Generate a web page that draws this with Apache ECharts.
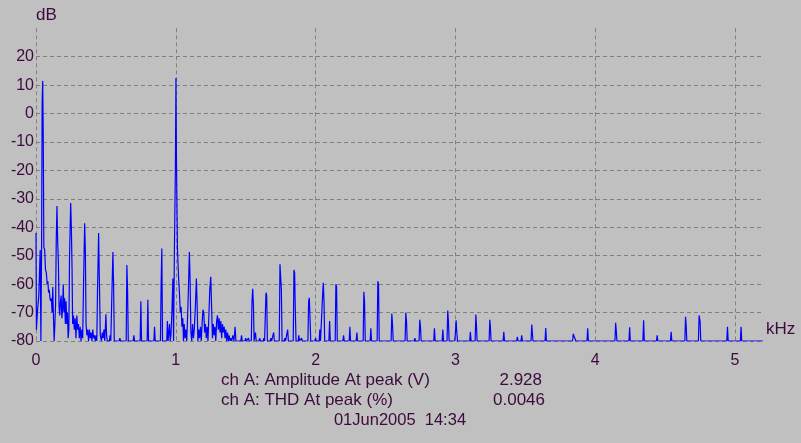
<!DOCTYPE html>
<html>
<head>
<meta charset="utf-8">
<script src="https://cdn.jsdelivr.net/npm/echarts@6/dist/echarts.min.js"></script>
<style>
html,body{margin:0;padding:0;background:#c0c0c0;}
#chart{width:801px;height:443px;}
</style>
</head>
<body>
<div id="chart"></div>
<script>
// ---- data (frequency in kHz, level in dB) ----
const xTicks = [0, 1, 2, 3, 4, 5];
const yTicks = [20, 10, 0, -10, -20, -30, -40, -50, -60, -70, -80];
const floorDb = -80;
const binKHz = 0.005;

// low-frequency region around the 50 Hz component and its harmonics
const lowBand = [
  [0.000,-42],[0.003,-76],[0.010,-70],[0.020,-64],[0.030,-48],[0.040,-47],[0.044,4],[0.048,11.5],[0.052,-8],
  [0.056,-47],[0.062,-48],[0.068,-55],[0.074,-56],[0.080,-60],[0.085,-59],[0.090,-63],[0.095,-62],[0.100,-65],
  [0.105,-66],[0.110,-65],[0.115,-70],[0.120,-61],[0.125,-72],[0.130,-80],[0.135,-74],[0.140,-67],[0.145,-44],
  [0.150,-32.5],[0.155,-45],[0.160,-52],[0.165,-68],[0.170,-71],[0.175,-66],[0.180,-64],[0.185,-72],[0.190,-69],
  [0.195,-60],[0.200,-70],[0.205,-65],[0.210,-74],[0.215,-66],[0.220,-74],[0.225,-70],[0.230,-79],[0.235,-76],
  [0.240,-50],[0.248,-31.5],[0.253,-40],[0.258,-55],[0.262,-74],[0.268,-71],[0.274,-76],[0.280,-72],[0.286,-79],
  [0.292,-71],[0.298,-76],[0.304,-74],[0.310,-79],[0.316,-75],[0.322,-80],[0.328,-76],[0.334,-79],[0.340,-60],
  [0.348,-38.6],[0.353,-48],[0.358,-74],[0.364,-78],[0.370,-76],[0.376,-80],[0.382,-76],[0.388,-79],[0.394,-77],
  [0.400,-80],[0.406,-76],[0.412,-79],[0.418,-78],[0.424,-80],[0.430,-78],[0.440,-62],[0.448,-42],[0.453,-58],
  [0.460,-78],[0.468,-80],[0.474,-77],[0.480,-79],[0.486,-76],[0.492,-80],[0.500,-70.6],[0.505,-78]
];

// isolated spikes between the low band and the 1 kHz tone
const midPeaks = [
  [0.530,-78],[0.550,-48.7],[0.555,-60],[0.600,-79],[0.650,-53.3],[0.655,-62],[0.700,-78],[0.750,-66],
  [0.800,-65.5],[0.848,-75],[0.895,-60],[0.900,-47.5],[0.940,-73]
];

// 1 kHz test tone and the noise around it
const toneBand = [
  [0.955,-74],[0.965,-78],[0.972,-70],[0.979,-58],[0.990,-48],[0.997,-20],[1.001,12.5],[1.005,-18],[1.012,-48],
  [1.020,-58],[1.026,-63],[1.032,-70],[1.038,-68],[1.044,-75],[1.050,-72],[1.055,-80],[1.060,-74],[1.066,-79],
  [1.072,-76],[1.078,-80],[1.084,-72],[1.090,-62],[1.097,-48.7],[1.102,-58],[1.108,-77],[1.114,-80],[1.120,-74],
  [1.126,-79],[1.132,-76],[1.140,-68],[1.147,-58],[1.152,-66],[1.158,-80],[1.164,-76],[1.170,-79],[1.176,-75],
  [1.182,-80],[1.188,-74],[1.194,-69],[1.200,-70],[1.206,-77],[1.212,-74],[1.218,-79],[1.224,-75],[1.230,-80],
  [1.236,-72],[1.243,-62],[1.250,-57.4],[1.256,-68],[1.262,-79],[1.268,-74],[1.274,-78],[1.280,-75],[1.286,-80],
  [1.292,-73],[1.298,-71],[1.304,-76],[1.310,-72],[1.316,-77],[1.322,-73],[1.328,-79],[1.334,-74],[1.340,-77],
  [1.346,-75],[1.352,-79],[1.358,-76],[1.364,-80],[1.370,-77],[1.376,-80],[1.382,-78],[1.388,-80],[1.394,-79],
  [1.400,-80],[1.408,-78],[1.416,-80],[1.424,-75],[1.430,-80]
];

// harmonics and spurs above 1.4 kHz
const highPeaks = [
  [1.470,-78],[1.500,-79],[1.520,-79],[1.545,-66],[1.550,-61.6],[1.555,-67],[1.570,-77],[1.600,-79],[1.630,-79],
  [1.645,-63],[1.650,-64],[1.680,-79],[1.700,-77],[1.745,-53],[1.750,-52.7],[1.755,-62],[1.780,-79],[1.800,-76],
  [1.845,-55],[1.850,-56],[1.855,-70],[1.880,-78],[1.900,-79],[1.950,-66],[1.955,-64.8],[1.960,-72],[2.000,-79],
  [2.030,-76],[2.050,-64],[2.055,-59.5],[2.060,-66],[2.100,-73],[2.145,-60],[2.150,-61],[2.200,-78],[2.245,-75],
  [2.295,-77],[2.345,-62.7],[2.350,-66],[2.395,-75.5],[2.445,-59],[2.450,-60],[2.545,-70.3],[2.550,-74],
  [2.645,-70],[2.650,-73],[2.710,-79],[2.745,-72.5],[2.750,-75],[2.850,-75.5],[2.910,-76],[2.945,-69.3],
  [2.950,-73],[3.000,-77],[3.005,-72.7],[3.010,-77],[3.107,-76.8],[3.146,-70.7],[3.150,-74],[3.246,-72.5],
  [3.250,-75],[3.346,-76.8],[3.443,-78.5],[3.474,-78],[3.546,-74.2],[3.550,-77],[3.646,-75.4],[3.843,-77.5],
  [3.850,-78.5],[3.857,-78],[3.900,-79.5],[3.946,-75.5],[4.146,-73.6],[4.150,-76],[4.246,-75.2],[4.346,-72.7],
  [4.443,-78],[4.543,-76.8],[4.646,-71.5],[4.650,-74],[4.743,-71],[4.750,-73],[4.946,-75],[5.043,-75],[5.140,-79.5]
];

const xMaxKHz = 5.2;
const textColor = '#3d0a3d';
const font = 'Liberation Sans, Arial, sans-serif';

// join the listed spectrum points; between separated points the trace rests on the floor
const pts = [].concat(lowBand, midPeaks, toneBand, highPeaks).sort((a, b) => a[0] - b[0]);
const spectrum = [];
pts.forEach((p, i) => {
  if (i > 0) {
    const prev = pts[i - 1];
    if (p[0] - prev[0] > 2 * binKHz) {
      spectrum.push([prev[0] + binKHz, floorDb]);
      spectrum.push([p[0] - binKHz, floorDb]);
    }
  }
  spectrum.push(p);
});
spectrum.push([pts[pts.length - 1][0] + binKHz, floorDb]);
spectrum.push([xMaxKHz, floorDb]);

const chart = echarts.init(document.getElementById('chart'), null, {renderer: 'canvas'});
const grey = '#808080';
const f17 = '17px ' + font;
chart.setOption({
  backgroundColor: '#c0c0c0',
  animation: false,
  grid: {left: 36, right: 38, top: 28.3, bottom: 102},
  xAxis: {
    type: 'value', min: 0, max: xMaxKHz, interval: 1,
    axisLine: {show: false}, axisTick: {show: false},
    axisLabel: {
      color: textColor, fontFamily: font, fontSize: 16, margin: 12,
      showMaxLabel: false,
      formatter: v => (xTicks.indexOf(v) >= 0 ? String(v) : '')
    },
    splitLine: {show: true, lineStyle: {color: [grey, grey, grey, grey, grey, grey, 'rgba(0,0,0,0)'], type: [4, 3], width: 1}}
  },
  yAxis: {
    type: 'value', min: -80, max: 30, interval: 10,
    axisLine: {show: false}, axisTick: {show: false},
    axisLabel: {
      color: textColor, fontFamily: font, fontSize: 16, margin: 2,
      showMaxLabel: false,
      formatter: v => (yTicks.indexOf(v) >= 0 ? String(v) : '')
    },
    splitLine: {show: true, lineStyle: {color: [grey, grey, grey, grey, grey, grey, grey, grey, grey, grey, grey, 'rgba(0,0,0,0)'], type: [4, 3], width: 1}}
  },
  graphic: [
    {type: 'text', left: 36, top: 7, style: {text: 'dB', fill: textColor, font: f17}},
    {type: 'text', left: 766, top: 321, style: {text: 'kHz', fill: textColor, font: f17}},
    {type: 'text', x: 221, y: 380, style: {text: 'ch A: Amplitude At peak (V)', fill: textColor, font: f17, verticalAlign: 'middle'}},
    {type: 'text', x: 542, y: 380, style: {text: '2.928', fill: textColor, font: f17, align: 'right', verticalAlign: 'middle'}},
    {type: 'text', x: 221, y: 400, style: {text: 'ch A: THD At peak (%)', fill: textColor, font: f17, verticalAlign: 'middle'}},
    {type: 'text', x: 545, y: 400, style: {text: '0.0046', fill: textColor, font: f17, align: 'right', verticalAlign: 'middle'}},
    {type: 'text', x: 400, y: 420, style: {text: '01Jun2005  14:34', fill: textColor, font: '16.5px ' + font, align: 'center', verticalAlign: 'middle'}}
  ],
  series: [{
    type: 'line',
    data: spectrum,
    showSymbol: false,
    symbol: 'none',
    lineStyle: {color: '#0000ff', width: 1.2},
    clip: true
  }]
});
</script>
</body>
</html>
